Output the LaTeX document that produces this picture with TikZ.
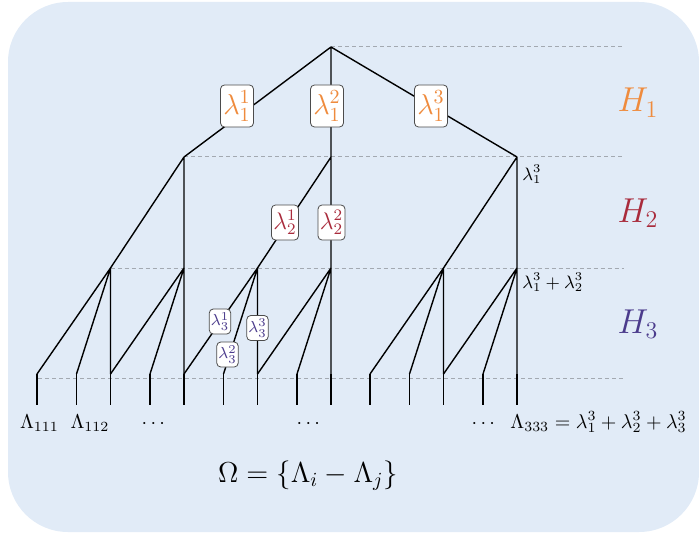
\documentclass[tikz,border=0pt]{standalone}
\usepackage{amsmath}
\usepackage{tikz}
\usetikzlibrary{calc}

\definecolor{bgBlue}{HTML}{E1EBF7}
\definecolor{hOrange}{HTML}{EF8B3D}
\definecolor{hRed}{HTML}{A92B3C}
\definecolor{hPurple}{HTML}{4B3B8C}
\definecolor{guideGray}{HTML}{A3A9B1}

\begin{document}
\begin{tikzpicture}[
    x=0.5pt, y=-0.5pt,
    tree edge/.style={
        line width=0.7pt,
        draw=black
    },
    level guide/.style={
        draw=guideGray,
        line width=0.5pt,
        dash pattern=on 2pt off 1.5pt
    },
    lam box/.style={
        rectangle,
        rounded corners=2pt,
        draw=black!70,
        line width=0.4pt,
        fill=white,
        text=#1,
        inner sep=0.8pt
    },
    lam one/.style={lam box=hOrange, minimum width=16.5pt, minimum height=21pt, font=\Large},
    lam two/.style={lam box=hRed, minimum width=13.5pt, minimum height=17.5pt, font=\large},
    lam three/.style={lam box=hPurple, minimum width=9.5pt, minimum height=12.5pt, font=\footnotesize},
    level name/.style={
        font=\LARGE,
        text=#1,
        inner sep=0pt,
        anchor=base
    },
    leaf label/.style={inner sep=0pt, anchor=base},
    side note/.style={inner sep=0pt, anchor=base west, font=\small}
]

% Canvas and background panel
\useasboundingbox (0,0) rectangle (699,534);
\fill[bgBlue, rounded corners=30pt] (8,2) rectangle (699,532);

% Tree points
\coordinate (root) at (331,47);
\coordinate (n1) at (184,157);
\coordinate (n2) at (331,157);
\coordinate (n3) at (517,157);

\coordinate (n11) at (110.5,268);
\coordinate (n12) at (184,268);
\coordinate (n21) at (257.5,268);
\coordinate (n22) at (331,268);
\coordinate (n31) at (443.5,268);
\coordinate (n32) at (517,268);

\coordinate (n111) at (37,374);
\coordinate (n112) at (76.5,374);
\coordinate (n113) at (110.5,374);
\coordinate (n121) at (110.5,374);
\coordinate (n122) at (150,374);
\coordinate (n123) at (184,374);
\coordinate (n211) at (184,374);
\coordinate (n212) at (223.5,374);
\coordinate (n213) at (257.5,374);
\coordinate (n221) at (257.5,374);
\coordinate (n222) at (297,374);
\coordinate (n223) at (331,374);
\coordinate (n311) at (370,374);
\coordinate (n312) at (409.5,374);
\coordinate (n313) at (443.5,374);
\coordinate (n321) at (443.5,374);
\coordinate (n322) at (483,374);
\coordinate (n323) at (517,374);

\coordinate (stubEnd) at (0,405);
\coordinate (guideEnd) at (624,0);
\coordinate (g3) at (38,378);

% Level guides
\draw[level guide] (root) -- (root -| guideEnd);
\draw[level guide] (n1) -- (n1 -| guideEnd);
\draw[level guide] (n11) -- (n11 -| guideEnd);
\draw[level guide] (g3) -- (g3 -| guideEnd);

% First split
\draw[tree edge] (root) -- (n1) (root) -- (n2) (root) -- (n3);

% Second split
\draw[tree edge] (n1) -- (n11) (n1) -- (n12);
\draw[tree edge] (n2) -- (n21) (n2) -- (n22);
\draw[tree edge] (n3) -- (n31) (n3) -- (n32);

% Third split
\draw[tree edge] (n11) -- (n111) (n11) -- (n112) (n11) -- (n113);
\draw[tree edge] (n12) -- (n121) (n12) -- (n122) (n12) -- (n123);
\draw[tree edge] (n21) -- (n211) (n21) -- (n212) (n21) -- (n213);
\draw[tree edge] (n22) -- (n221) (n22) -- (n222) (n22) -- (n223);
\draw[tree edge] (n31) -- (n311) (n31) -- (n312) (n31) -- (n313);
\draw[tree edge] (n32) -- (n321) (n32) -- (n322) (n32) -- (n323);

% Leaf stubs
\draw[tree edge] (n111) -- (n111 |- stubEnd) (n112) -- (n112 |- stubEnd)
    (n113) -- (n113 |- stubEnd) (n122) -- (n122 |- stubEnd)
    (n123) -- (n123 |- stubEnd) (n212) -- (n212 |- stubEnd)
    (n213) -- (n213 |- stubEnd) (n222) -- (n222 |- stubEnd)
    (n223) -- (n223 |- stubEnd) (n311) -- (n311 |- stubEnd)
    (n312) -- (n312 |- stubEnd) (n313) -- (n313 |- stubEnd)
    (n322) -- (n322 |- stubEnd) (n323) -- (n323 |- stubEnd);

% Split weights
\node[lam one] (l11) at (237,106) {$\lambda_1^1$};
\node[lam one] (l12) at (327,106) {$\lambda_1^2$};
\node[lam one] (l13) at (431,106) {$\lambda_1^3$};

\node[lam two] (l21) at (285,222.5) {$\lambda_2^1$};
\node[lam two] (l22) at (331.5,222.5) {$\lambda_2^2$};

\node[lam three] (l31) at (220,321.5) {$\lambda_3^1$};
\node[lam three] (l32) at (227.5,354.5) {$\lambda_3^2$};
\node[lam three] (l33) at (257.5,328) {$\lambda_3^3$};

% Level names
\node[level name=hOrange] (h1) at (638,112) {$H_1$};
\node[level name=hRed] (h2) at (638,222) {$H_2$};
\node[level name=hPurple] (h3) at (638,333) {$H_3$};

% Running sums
\node[side note] (sum1) at (522,180) {$\lambda_1^3$};
\node[side note] (sum2) at (522,288) {$\lambda_1^3 + \lambda_2^3$};

% Leaf values
\node[leaf label] (v111) at (39.5,428) {$\Lambda_{111}$};
\node[leaf label] (v112) at (90,428) {$\Lambda_{112}$};
\node[leaf label] (dots1) at (155,428) {$\cdots$};
\node[leaf label] (dots2) at (310,428) {$\cdots$};
\node[leaf label] (dots3) at (485,428) {$\cdots$};
\node[leaf label, anchor=base west] (v333) at (510,428)
    {$\Lambda_{333} = \lambda_1^3 + \lambda_2^3 + \lambda_3^3$};

% Difference set
\node[leaf label, font=\fontsize{14}{16}\selectfont] (omega) at (308,482)
    {$\Omega = \{\Lambda_i - \Lambda_j\}$};

\end{tikzpicture}
\end{document}
